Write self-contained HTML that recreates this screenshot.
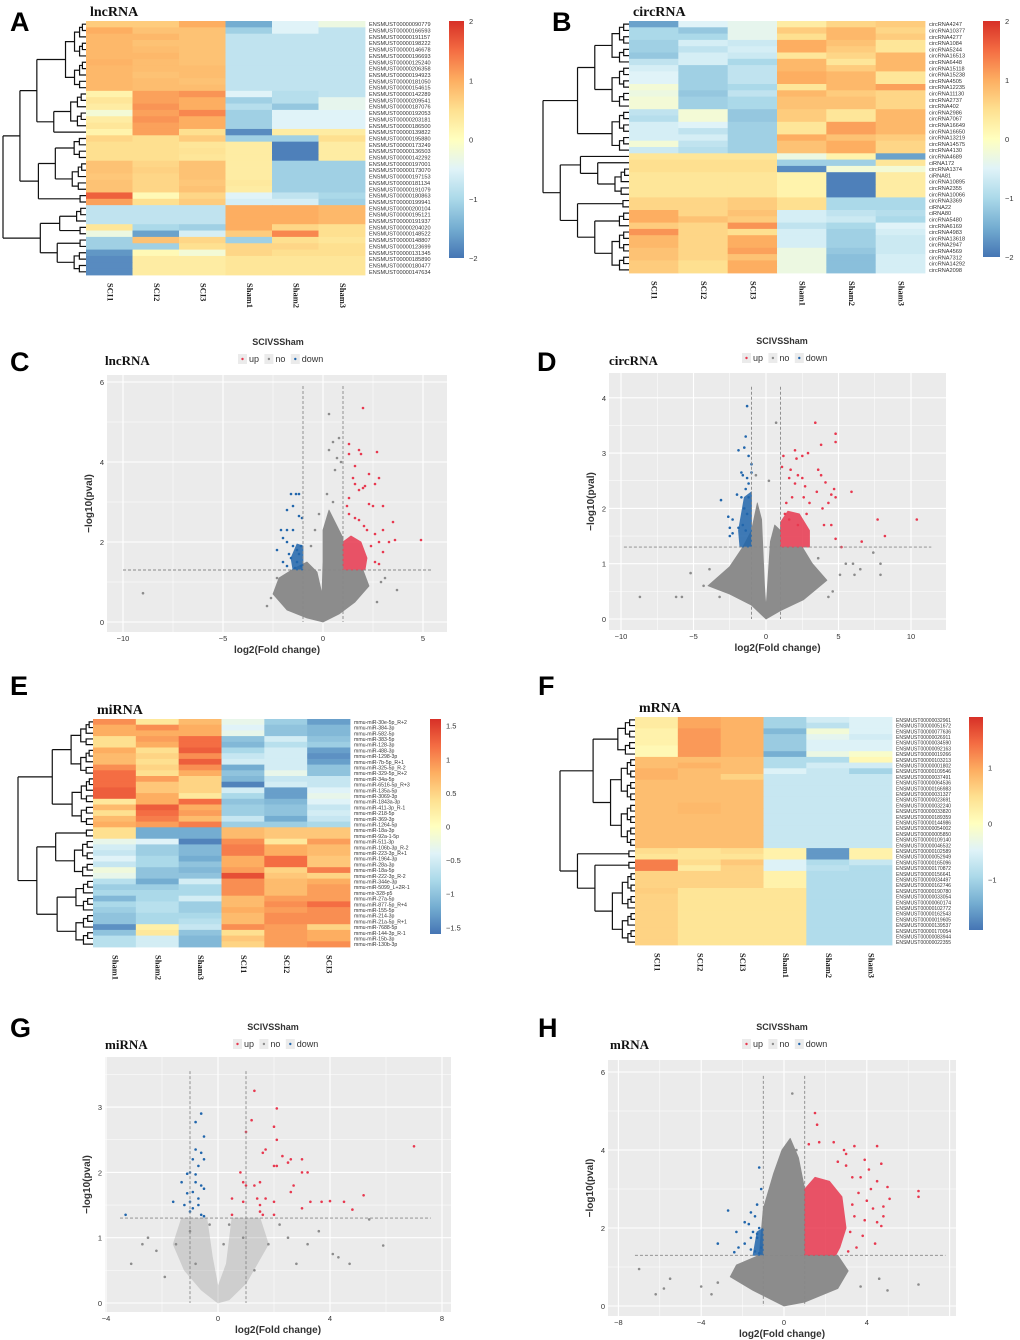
<!DOCTYPE html>
<html><head><meta charset="utf-8">
<style>
html,body{margin:0;padding:0;background:#fff;}
svg{display:block;}
.lt{font-family:"Liberation Sans",sans-serif;font-weight:bold;fill:#000;}
.tt{font-family:"Liberation Serif",serif;font-weight:bold;fill:#111;}
.sm{font-family:"Liberation Sans",sans-serif;fill:#333;}
</style></head>
<body>
<svg id="fig" width="1020" height="1340" viewBox="0 0 1020 1340" xmlns="http://www.w3.org/2000/svg">
<defs>
<linearGradient id="cbg" x1="0" y1="1" x2="0" y2="0">
<stop offset="0" stop-color="#4575b4"/><stop offset="0.125" stop-color="#74add1"/><stop offset="0.25" stop-color="#abd9e9"/><stop offset="0.375" stop-color="#e0f3f8"/><stop offset="0.5" stop-color="#ffffbf"/><stop offset="0.625" stop-color="#fee090"/><stop offset="0.75" stop-color="#fdae61"/><stop offset="0.875" stop-color="#f46d43"/><stop offset="1" stop-color="#d73027"/>
</linearGradient>
</defs>
<text class="lt" x="10" y="31" font-size="27">A</text>
<text class="lt" x="552" y="31" font-size="27">B</text>
<text class="lt" x="10" y="371" font-size="27">C</text>
<text class="lt" x="537" y="371" font-size="27">D</text>
<text class="lt" x="10" y="695" font-size="27">E</text>
<text class="lt" x="538" y="695" font-size="27">F</text>
<text class="lt" x="10" y="1037" font-size="27">G</text>
<text class="lt" x="538" y="1037" font-size="27">H</text>
</svg>
<script>
// ---------- Heatmap data ----------
const colsA = ["SCI1","SCI2","SCI3","Sham1","Sham2","Sham3"];
const colsE = ["Sham1","Sham2","Sham3","SCI1","SCI2","SCI3"];
const rowsA = ["090779","166593","191157","198222","146678","196693","125240","206358","194923","181050","154615","142289","209541","187076","192053","203181","186500","139822","195880","173249","136503","142292","197001","173070","197153","181134","191079","180863","199941","200104","195121","191937","204020","148522","148807","123699","131345","185890","180477","147634"].map(s=>"ENSMUST00000"+s);
const valsA = [
[0.7,0.7,1.0,-1.5,-0.5,-0.3],[1.0,0.8,0.8,-1.1,-0.5,-0.8],[0.9,0.9,0.8,-0.8,-0.8,-0.8],[0.9,0.8,0.8,-0.8,-0.8,-0.8],[0.9,0.85,0.8,-0.8,-0.8,-0.8],[0.9,0.9,0.8,-0.8,-0.8,-0.8],[0.95,0.85,0.8,-0.8,-0.8,-0.8],[0.9,0.85,0.85,-0.8,-0.8,-0.8],[0.9,0.8,0.85,-0.8,-0.8,-0.8],[0.9,0.85,0.8,-0.8,-0.8,-0.8],[0.9,0.85,0.85,-0.8,-0.8,-0.8],
[0.2,1.1,1.2,-0.5,-0.9,-0.8],[0.4,1.1,1.0,-1.1,-0.9,-0.4],[0.3,1.2,1.0,-0.9,-1.2,-0.4],[-0.2,1.1,1.3,-1.1,-0.5,-0.5],[0.3,1.2,1.0,-1.1,-0.5,-0.5],[0.4,1.1,1.0,-1.1,-0.5,-0.5],[0.2,1.1,0.5,-1.8,0.3,0.3],
[0.6,0.5,0.7,-1.1,-1.1,0.5],[0.5,0.5,0.4,0.3,-1.9,0.3],[0.5,0.5,0.45,0.3,-1.9,0.3],[0.5,0.5,0.4,0.3,-1.9,0.3],
[0.8,0.6,0.8,0.3,-1.1,-1.1],[0.8,0.65,0.8,0.3,-1.1,-1.1],[0.75,0.6,0.8,0.3,-1.1,-1.1],[0.8,0.6,0.75,0.35,-1.1,-1.1],[0.8,0.6,0.8,0.3,-1.1,-1.1],
[1.6,0.1,0.6,-0.5,-0.8,-1.0],[1.1,0.5,0.7,-0.6,-0.6,-1.1],
[-0.8,-0.8,-0.8,1.0,1.0,0.9],[-0.8,-0.8,-0.8,1.0,1.0,0.9],[-0.8,-0.8,-0.8,1.0,1.0,0.9],[0.4,-1.0,-1.1,1.0,0.6,0.5],[-0.3,-1.6,-0.6,0.7,1.3,0.5],
[-1.1,0.8,0.6,-1.1,0.5,0.4],[-1.1,-1.1,0.5,0.6,0.6,0.5],[-1.7,0.1,-0.2,0.6,0.5,0.5],[-1.8,0.3,0.3,0.4,0.4,0.4],[-1.8,0.3,0.3,0.4,0.4,0.4],[-1.8,0.3,0.3,0.4,0.4,0.4]];
const rowsB = ["circRNA4247","circRNA10377","circRNA4277","circRNA1084","circRNA5244","circRNA16513","circRNA6448","circRNA15118","circRNA15238","circRNA4505","circRNA12235","circRNA11130","circRNA2737","circRNA402","circRNA2986","circRNA7067","circRNA16649","circRNA16650","circRNA13219","circRNA14575","circRNA4130","circRNA4689","ciRNA172","circRNA1374","ciRNA81","circRNA10895","circRNA2355","circRNA10066","circRNA3369","ciRNA22","ciRNA80","circRNA5480","circRNA6169","circRNA4983","circRNA13618","circRNA2947","circRNA4569","circRNA7312","circRNA14292","circRNA2098"];
const valsB = [
[-1.6,-0.5,-0.4,0.3,0.6,0.7],[-1.0,-1.2,-0.4,0.7,0.9,0.6],[-1.0,-1.0,-0.4,0.5,0.9,0.7],[-1.1,-0.6,-0.7,1.0,0.8,0.4],[-1.1,-0.8,-0.6,1.0,0.7,0.4],[-1.2,-0.6,-0.7,0.4,0.6,0.9],[-0.8,-0.6,-1.0,0.9,0.4,0.9],
[-0.6,-1.1,-0.8,0.9,0.7,0.9],[-0.5,-1.1,-0.8,1.0,0.9,0.4],[-0.5,-1.1,-0.8,1.0,0.9,0.4],[-0.2,-1.1,-1.0,0.4,0.9,1.1],[-0.3,-1.2,-0.8,0.9,0.7,0.6],[-0.2,-1.1,-1.0,0.8,0.8,0.6],[-0.2,-1.1,-1.0,0.8,0.8,0.6],
[-0.8,-0.2,-1.2,0.7,0.4,0.9],[-0.9,-0.2,-1.2,0.7,0.4,0.9],[-0.6,-0.5,-1.1,0.4,1.1,0.9],[-0.6,-0.8,-1.1,0.4,1.1,0.9],[-0.6,-0.6,-1.1,1.0,0.8,0.7],[-0.2,-0.8,-1.1,0.8,1.0,0.6],[-0.7,-0.9,-1.1,0.8,1.0,0.6],
[0.4,0.4,0.4,-0.3,0.2,-1.6],[0.5,0.5,0.5,-1.1,-1.1,0.4],[0.5,0.5,0.5,-1.8,-0.2,-0.2],[0.4,0.4,0.4,0.2,-1.9,0.3],[0.4,0.4,0.4,0.2,-1.9,0.3],[0.4,0.4,0.4,0.2,-1.9,0.3],[0.4,0.4,0.4,0.2,-1.9,0.3],
[0.6,0.6,0.7,0.5,-1.0,-1.0],[0.6,0.6,0.7,0.5,-1.0,-1.0],[1.0,0.6,0.8,-0.6,-0.8,-0.9],[1.0,0.8,0.7,-0.6,-0.7,-1.0],[0.7,0.6,1.2,-0.8,-1.0,-0.5],[1.2,0.6,0.5,-0.6,-1.1,-0.6],[0.9,0.6,1.0,-0.6,-1.1,-0.7],[0.9,0.6,1.0,-0.6,-1.1,-0.7],[0.8,0.6,1.1,-0.3,-1.2,-0.7],[0.8,0.6,0.8,-0.3,-1.3,-0.6],[0.7,0.5,1.0,-0.3,-1.3,-0.6],[0.7,0.5,1.0,-0.3,-1.3,-0.6]];
const rowsE = ["mmu-miR-30e-5p_R+2","mmu-miR-384-3p","mmu-miR-582-5p","mmu-miR-383-5p","mmu-miR-128-3p","mmu-miR-488-3p","mmu-miR-1298-3p","mmu-miR-7b-5p_R+1","mmu-miR-325-5p_R-2","mmu-miR-329-5p_R+2","mmu-miR-34a-5p","mmu-miR-6516-5p_R+3","mmu-miR-135a-5p","mmu-miR-3069-3p","mmu-miR-1843a-3p","mmu-miR-411-3p_R-1","mmu-miR-218-5p","mmu-miR-369-3p","mmu-miR-1264-5p","mmu-miR-18a-3p","mmu-miR-92a-1-5p","mmu-miR-511-3p","mmu-miR-106b-3p_R-2","mmu-miR-223-3p_R+1","mmu-miR-1964-3p","mmu-miR-28a-3p","mmu-miR-18a-5p","mmu-miR-222-3p_R-2","mmu-miR-344e-3p","mmu-miR-5099_L+2R-1","mmu-mir-328-p5","mmu-miR-27a-5p","mmu-miR-877-5p_R+4","mmu-miR-155-5p","mmu-miR-214-3p","mmu-miR-21a-5p_R+1","mmu-miR-7688-5p","mmu-miR-144-3p_R-1","mmu-miR-15b-3p","mmu-miR-130b-3p"];
const valsE = [
[1.0,0.3,0.7,-0.3,-0.9,-1.3],[0.8,1.0,0.8,-0.4,-1.0,-1.1],[0.8,0.8,0.8,-0.3,-1.0,-1.1],[0.4,0.9,1.2,-1.0,-0.5,-1.0],[0.4,0.8,1.2,-1.1,-0.7,-0.9],[0.8,0.4,1.3,-0.8,-0.5,-1.3],[0.7,0.5,1.0,-0.6,-0.5,-1.4],[0.7,0.4,1.3,-0.5,-0.5,-1.3],[1.0,0.5,1.0,-1.2,-0.5,-1.0],[1.2,0.4,0.8,-1.0,-0.3,-1.0],
[1.2,0.9,0.5,-1.1,-0.6,-0.6],[1.2,0.6,0.5,-1.5,-0.5,-0.6],[1.3,0.6,0.5,-0.5,-1.3,-0.4],[1.3,0.8,0.3,-0.8,-1.3,-0.3],[0.3,0.8,1.2,-1.0,-1.1,-0.4],[0.7,1.3,0.8,-0.9,-1.0,-0.6],[0.4,1.2,0.9,-0.9,-1.0,-0.5],[0.7,1.1,0.7,-0.6,-1.2,-0.6],[0.8,0.9,1.1,-0.9,-0.9,-0.8],
[0.4,-1.2,-1.2,0.7,0.6,0.6],[0.4,-1.2,-1.2,0.7,0.6,0.6],[-0.3,-0.4,-1.5,1.0,0.3,0.9],[-0.5,-0.9,-1.1,1.1,0.8,0.7],[-0.6,-0.9,-1.1,1.1,0.8,0.7],[-0.4,-0.8,-1.2,0.8,1.2,0.6],[-0.6,-0.8,-1.0,0.8,1.2,0.6],[-0.2,-1.0,-1.1,0.9,0.5,1.1],[-0.3,-1.0,-1.0,1.4,0.6,0.5],
[-0.7,-1.2,-0.5,1.0,0.7,0.8],[-0.9,-0.9,-0.8,1.0,0.7,0.9],[-0.8,-0.8,-0.8,1.0,0.7,0.9],[-1.1,-0.8,-0.5,0.7,0.9,0.9],[-0.8,-0.7,-0.9,0.7,1.0,1.2],[-0.9,-0.7,-0.9,0.8,0.9,1.0],[-1.0,-0.8,-0.8,0.7,1.0,1.0],[-1.0,-0.8,-0.7,0.7,1.0,1.0],[-1.4,0.2,-0.6,1.0,0.9,0.5],[-1.0,0.3,-1.0,0.4,0.9,0.8],[-0.7,-0.5,-1.1,0.6,0.9,0.8],[-0.7,-0.5,-1.1,0.5,0.9,1.0]];
const rowsF = ["032961","051672","077636","026911","034590","092163","019266","103213","001802","109546","037491","064536","166983","031327","023691","032240","033820","189359","144986","054002","005850","109140","046532","102589","052949","165096","170872","156641","034497","162746","190780","033054","060174","102772","162543","019605","139537","170054","083944","022355"].map(s=>"ENSMUST00000"+s);
const valsF = [
[0.3,1.0,0.9,-1.0,-0.6,-0.5],[0.3,1.0,0.9,-1.0,-0.8,-0.5],[0.2,1.1,0.9,-1.3,-0.2,-0.5],[0.2,1.1,0.9,-1.1,-0.4,-0.6],[0.2,1.1,0.9,-1.1,-0.5,-0.5],[0.1,1.1,0.9,-1.1,-0.5,-0.5],[0.1,1.1,0.9,-1.4,-0.3,-0.1],
[0.8,0.8,0.8,-0.9,-0.9,0.1],[0.8,0.9,0.8,-0.9,-0.6,-0.6],[0.9,0.8,0.8,-0.5,-0.7,-1.0],[0.9,0.8,0.6,-0.7,-0.7,-0.7],
[0.8,0.8,0.8,-0.7,-0.7,-0.7],[0.8,0.8,0.8,-0.7,-0.7,-0.7],[0.8,0.8,0.8,-0.7,-0.7,-0.7],[0.8,0.8,0.8,-0.7,-0.7,-0.7],[0.8,0.85,0.8,-0.7,-0.7,-0.7],[0.8,0.85,0.8,-0.7,-0.7,-0.7],[0.8,0.8,0.8,-0.7,-0.7,-0.7],[0.8,0.8,0.8,-0.7,-0.7,-0.7],[0.8,0.8,0.8,-0.7,-0.7,-0.7],[0.8,0.8,0.8,-0.7,-0.7,-0.7],[0.8,0.8,0.8,-0.7,-0.7,-0.7],[0.8,0.8,0.8,-0.7,-0.7,-0.7],
[0.5,0.4,0.5,0.2,-1.6,0.2],[0.4,0.4,0.4,0.2,-1.6,0.2],[1.3,0.5,0.7,-0.5,-0.9,-0.7],[1.3,0.3,0.6,-0.5,-0.8,-0.9],
[0.6,0.6,0.6,0.2,-0.9,-0.9],[0.6,0.6,0.6,0.2,-0.9,-0.9],[0.6,0.6,0.6,0.2,-0.9,-0.9],
[0.65,0.4,0.4,0.4,-0.9,-0.9],[0.6,0.4,0.4,0.4,-0.9,-0.9],[0.6,0.4,0.4,0.4,-0.9,-0.9],[0.6,0.4,0.4,0.4,-0.9,-0.9],[0.6,0.4,0.4,0.4,-0.9,-0.9],[0.6,0.4,0.4,0.4,-0.9,-0.9],[0.6,0.4,0.4,0.4,-0.9,-0.9],[0.6,0.4,0.4,0.4,-0.9,-0.9],[0.6,0.4,0.4,0.4,-0.9,-0.9],[0.6,0.4,0.4,0.4,-0.9,-0.9]];
const ticksAB = [2,1,0,-1,-2];
const ticksE = [1.5,1,0.5,0,-0.5,-1,-1.5];
const ticksF = [1,0,-1];
const treeA = [[["0-10",["11-16","17"]],[["18-21","22-26"],"27-28"]],[["29-31","32-33"],["34-35","36-39"]]];
const treeB = [[["0-6","7-13"],"14-20"],[["21",["22","23-27"]],["28-29",["30-32","33-39"]]]];
const treeE = [["0-9","10-18"],[["19-20","21-27"],["28-33","34-39"]]];
const treeF = [["0-6","7-22"],["23-24",["25-26","27-39"]]];

// ---------- Volcano data (log2FC, -log10 p) ----------
const cloudC = [[0,0],[-0.8,0.1],[-1.8,0.3],[-2.5,0.7],[-2.2,1.1],[-1.4,1.35],[-0.8,1.5],[-0.3,1.25],[-0.05,0.7],[0,1.5],[0,2.3],[0.3,2.8],[0.6,2.5],[1,2.1],[1,1.3],[2.0,1.3],[2.3,0.9],[1.6,0.5],[0.8,0.2]];
const denseUpC = [[1,1.3],[1,2.0],[1.4,2.15],[1.9,2.0],[2.2,1.6],[2.1,1.3]];
const denseDnC = [[-1,1.3],[-1,1.9],[-1.3,1.95],[-1.6,1.6],[-1.5,1.3]];
const upC = [[2.0,5.35],[1.3,4.45],[1.8,4.3],[2.7,4.25],[1.9,4.2],[1.3,4.2],[1.6,3.9],[2.3,3.7],[2.8,3.6],[1.5,3.6],[1.6,3.45],[2.1,3.4],[2.6,3.45],[1.8,3.3],[2.0,3.35],[1.3,3.1],[2.3,2.95],[2.5,2.9],[3.0,2.9],[1.2,2.9],[1.6,2.6],[3.5,2.5],[2.2,2.3],[3.0,2.3],[2.6,2.2],[3.6,2.05],[4.9,2.05],[3.3,2.0],[2.8,2.0],[2.4,1.9],[3.0,1.75],[2.6,1.5],[2.8,1.45],[1.3,2.7],[1.8,2.55],[2.05,2.4]];
const downC = [[-1.35,3.2],[-1.6,3.2],[-1.2,3.2],[-1.5,2.9],[-1.8,2.8],[-1.2,2.65],[-1.05,2.6],[-2.1,2.3],[-1.8,2.3],[-1.5,2.3],[-2.0,2.1],[-1.8,2.0],[-2.3,1.8],[-1.5,1.9],[-1.2,1.7],[-1.6,1.6],[-2.0,1.5],[-1.3,1.5],[-1.8,1.4],[-1.1,1.4],[-1.4,1.35],[-1.7,1.7],[-1.1,1.9],[-1.3,1.8]];
const grayC = [[-9,0.72],[3.7,0.8],[0.3,5.2],[-0.2,2.7],[0.3,4.3],[0.8,4.6],[0.6,3.8],[0.9,4.0],[-0.4,2.3],[-2.3,1.1],[-2.6,0.6],[2.9,1.0],[3.1,1.1],[0.5,4.5],[0.7,4.1],[0.2,3.2],[0.5,3.0],[-0.6,1.9],[-2.8,0.4],[2.7,0.5]];

const cloudD = [[0,0],[-1,0.25],[-2.5,0.45],[-4,0.6],[-2.5,0.95],[-1.6,1.3],[-1,1.6],[-0.6,2.1],[-0.3,1.8],[-0.1,0.6],[0,0.2],[0.1,0.6],[0.3,1.4],[0.6,1.7],[1,1.6],[1,1.3],[2.5,1.3],[3.2,1.0],[4.2,0.7],[2.6,0.35],[1,0.15]];
const denseUpD = [[1,1.3],[1,1.75],[1.5,1.95],[2.3,1.9],[3.0,1.6],[3.0,1.3]];
const denseDnD = [[-1,1.3],[-1,2.3],[-1.5,2.2],[-1.9,1.6],[-1.8,1.3]];
const upD = [[3.4,3.55],[4.8,3.35],[4.8,3.2],[3.8,3.15],[2.0,3.05],[2.5,2.95],[2.9,3.0],[1.2,2.95],[2.1,2.9],[1.1,2.75],[3.6,2.7],[1.7,2.7],[2.2,2.6],[1.6,2.55],[2.5,2.55],[3.8,2.6],[4.1,2.47],[2.0,2.45],[2.7,2.4],[4.7,2.35],[5.9,2.3],[3.5,2.3],[4.5,2.25],[1.8,2.2],[2.6,2.2],[4.8,2.2],[3.0,2.1],[1.4,2.1],[4.3,2.1],[3.9,2.0],[2.8,1.9],[7.7,1.8],[10.4,1.8],[4.5,1.7],[4.0,1.7],[8.2,1.5],[6.6,1.4],[4.8,1.45],[5.2,1.3],[1.6,1.8],[2.2,1.7],[1.3,1.9]];
const downD = [[-1.3,3.85],[-1.4,3.3],[-1.9,3.05],[-1.5,3.1],[-1.2,2.95],[-1.0,2.8],[-1.0,2.65],[-1.7,2.65],[-1.6,2.6],[-1.3,2.55],[-1.2,2.45],[-1.4,2.35],[-2.0,2.25],[-1.7,2.2],[-3.1,2.15],[-1.2,2.2],[-1.5,2.0],[-1.3,1.9],[-2.6,1.85],[-2.3,1.8],[-1.6,1.7],[-2.5,1.65],[-2.3,1.55],[-1.9,1.65],[-1.4,1.6],[-2.5,1.5]];
const grayD = [[-8.7,0.4],[-6.2,0.4],[-5.8,0.4],[-5.2,0.83],[-3.9,0.9],[-4.3,0.6],[0.7,3.55],[0.2,2.5],[5.5,1.0],[6.0,1.0],[7.4,1.2],[7.9,1.0],[7.9,0.8],[5.1,0.8],[4.3,0.4],[6.1,0.8],[6.5,0.9],[3.6,1.1],[4.6,0.5],[-3.2,0.4],[-0.7,2.6]];

const cloudG = [[0,0],[-0.6,0.2],[-1.2,0.5],[-1.6,0.9],[-1.3,1.3],[-0.4,1.3],[-0.2,0.7],[0,0.25],[0.3,0.6],[0.5,1.3],[1.5,1.3],[1.8,0.9],[1.0,0.3],[0.4,0.05]];
const denseUpG = [];
const denseDnG = [];
const upG = [[1.3,3.25],[2.1,2.98],[1.2,2.8],[2.0,2.7],[1.0,2.62],[2.1,2.5],[1.7,2.35],[1.6,2.3],[2.3,2.25],[2.6,2.2],[3.0,2.2],[2.5,2.15],[2.0,2.1],[2.1,2.1],[3.0,2.0],[3.2,2.0],[0.8,2.0],[0.9,1.85],[1.0,1.8],[2.7,1.8],[1.5,1.85],[1.3,1.8],[2.6,1.7],[1.4,1.6],[5.2,1.65],[1.7,1.6],[0.5,1.6],[2.0,1.55],[3.3,1.55],[3.7,1.55],[4.0,1.56],[4.5,1.55],[1.5,1.5],[0.9,1.55],[3.0,1.45],[4.8,1.43],[1.5,1.4],[0.5,1.35],[1.6,1.35],[2.0,1.35],[7.0,2.4]];
const downG = [[-0.6,2.9],[-0.8,2.77],[-0.5,2.55],[-0.8,2.35],[-0.9,2.2],[-0.5,2.2],[-0.6,2.3],[-0.7,2.1],[-1.0,2.0],[-1.1,1.98],[-0.8,1.97],[-1.3,1.85],[-0.8,1.85],[-0.6,1.8],[-0.5,1.75],[-0.9,1.7],[-1.1,1.68],[-0.7,1.6],[-1.0,1.55],[-1.6,1.55],[-0.7,1.5],[-0.9,1.45],[-1.0,1.4],[-0.6,1.35],[-0.5,1.33],[-3.3,1.35],[-1.2,1.5]];
const grayG = [[5.9,0.88],[4.7,0.6],[4.3,0.7],[-3.1,0.6],[-2.2,0.8],[-2.5,1.0],[3.2,0.9],[3.6,1.1],[5.4,1.28],[-1.5,0.9],[-0.3,1.2],[0.4,1.2],[1.8,0.9],[2.8,0.6],[-2.7,0.9],[4.1,0.75],[-1.9,0.4],[-1.0,1.1],[0.9,1.0],[2.2,1.2],[1.3,0.5],[-0.8,0.6],[0.2,0.9],[2.5,1.0]];

const cloudH = [[0,0],[-1.5,0.4],[-2.6,0.75],[-2.3,1.05],[-1.2,1.3],[-1.0,2.5],[-0.5,3.4],[-0.1,4.0],[0.3,4.3],[0.7,3.8],[1,3.0],[1,1.3],[2.6,1.3],[3.1,0.9],[2.6,0.45],[1.0,0.1]];
const denseUpH = [[1,1.3],[1,3.0],[1.5,3.3],[2.2,3.2],[2.8,2.8],[3.0,2.0],[2.7,1.5],[2.5,1.3]];
const denseDnH = [[-1,1.3],[-1,2.0],[-1.3,1.9],[-1.5,1.3]];
const upH = [[1.5,4.95],[1.6,4.65],[1.7,4.2],[2.4,4.2],[1.2,4.15],[3.4,4.1],[4.5,4.1],[2.9,4.0],[3.0,3.9],[3.9,3.75],[4.7,3.65],[4.5,3.2],[5.0,3.05],[6.5,2.95],[6.5,2.8],[5.1,2.75],[4.8,2.55],[4.3,2.5],[4.8,2.3],[4.5,2.15],[4.7,2.05],[4.4,1.6],[4.0,2.7],[4.1,3.5],[3.8,1.8],[3.3,3.3],[3.6,2.9],[3.4,2.3],[3.2,1.9],[3.5,1.5],[3.1,1.4],[3.9,2.2],[3.0,3.6],[2.6,3.7],[3.7,3.3],[4.2,3.0],[3.3,2.6]];
const downH = [[-1.2,3.55],[-1.1,3.0],[-1.3,2.6],[-2.7,2.45],[-1.6,2.4],[-1.4,2.3],[-1.9,2.15],[-1.7,2.1],[-1.2,2.0],[-1.5,1.9],[-2.3,1.9],[-1.6,1.75],[-1.3,1.75],[-1.9,1.6],[-3.2,1.6],[-2.2,1.5],[-1.6,1.45],[-1.4,1.4],[-2.4,1.38],[-1.1,1.5],[-1.3,1.85],[-1.2,1.35]];
const grayH = [[0.4,5.45],[-7.0,0.95],[-5.5,0.7],[-5.8,0.45],[-6.2,0.3],[6.5,0.55],[4.6,0.7],[5.0,0.4],[3.7,0.5],[-3.2,0.6],[-4.0,0.5],[-3.5,0.3],[0.3,3.9],[0.6,4.0]];

const xticksC=[-10,-5,0,5], yticksC=[0,2,4,6];
const xticksD=[-10,-5,0,5,10], yticksD=[0,1,2,3,4];
const xticksG=[-4,0,4,8], yticksG=[0,1,2,3];
const xticksH=[-8,-4,0,4], yticksH=[0,2,4,6];

// ---------- helpers ----------
const svg=document.getElementById('fig');
const NS="http://www.w3.org/2000/svg";
function mk(tag,attrs,parent){const e=document.createElementNS(NS,tag);for(const k in attrs)e.setAttribute(k,attrs[k]);(parent||svg).appendChild(e);return e;}
const stops=[[-1,[69,117,180]],[-0.75,[116,173,209]],[-0.5,[171,217,233]],[-0.25,[224,243,248]],[0,[255,255,191]],[0.25,[254,224,144]],[0.5,[253,174,97]],[0.75,[244,109,67]],[1,[215,48,39]]];
function col(t){t=Math.max(-1,Math.min(1,t));for(let i=0;i<stops.length-1;i++){const a=stops[i],b=stops[i+1];if(t<=b[0]){const f=(t-a[0])/(b[0]-a[0]);return 'rgb('+a[1].map((v,j)=>Math.round(v+(b[1][j]-v)*f)).join(',')+')';}}return 'rgb(215,48,39)';}

function heatmap(o){
  const g=mk('g',{});
  
  
  const nr=o.vals.length, nc=o.cols.length, cw=(o.x1-o.x0)/nc, rh=(o.y1-o.y0)/nr;
  o.vals.forEach((row,i)=>row.forEach((v,j)=>{
    const r=mk('rect',{x:(o.x0+j*cw).toFixed(2),y:(o.y0+i*rh).toFixed(2),width:(cw+0.4).toFixed(2),height:(rh+0.4).toFixed(2),fill:col(v/o.max)},g);
    
    
  }));
  o.rows.forEach((s,i)=>{const t=mk('text',{x:o.x1+4,y:(o.y0+(i+0.5)*rh+2).toFixed(2),'font-size':o.lfs||5.6,class:'sm',fill:'#222'},g);t.textContent=s;
    
    });
  o.cols.forEach((s,j)=>{const cx=o.x0+(j+0.5)*cw, cy=o.y1+8;const t=mk('text',{x:cx,y:cy,transform:'rotate(90 '+cx+' '+cy+')','font-size':8.5,'font-family':'Liberation Serif,serif','font-weight':'bold',fill:'#222','dominant-baseline':'middle'},g);t.textContent=s;
    
    });
  const cb=mk('rect',{x:o.cbx,y:o.cby0,width:o.cbw,height:o.cby1-o.cby0,fill:'url(#cbg)'},g);
  
  
  const cym=(o.cby0+o.cby1)/2, cs=(o.cby1-o.cby0)/2/o.max;
  o.ticks.forEach(v=>{const t=mk('text',{x:o.cbx+o.cbw+5,y:(cym-v*cs+3).toFixed(1),'font-size':7.5,class:'sm',fill:'#333'},g);t.textContent=(v<0?'\u2212':'')+Math.abs(v);
    
    });
  const tt=mk('text',{x:o.x0+4,y:o.y0-5,'font-size':14,class:'tt'},g);tt.textContent=o.title;
  
  
  const dg=mk('g',{stroke:'#111','stroke-width':1.2,fill:'none'},g);
  
  
  function frac(n){ if(Array.isArray(n)){const cs=n.map(frac);const m=Math.max(...cs.map(c=>c.f));return {f:m+0.2,kids:cs,arr:true};}
    const p=String(n).split('-').map(Number);const lo=p[0],hi=p.length>1?p[1]:p[0];return {f:hi>lo?Math.min(0.3,0.07*Math.log2(hi-lo+1)):0,lo:lo,hi:hi};}
  const root=frac(o.tree); const sc=(o.x0-o.dx)/root.f;
  function ry(i){return o.y0+(i+0.5)*rh;}
  function drawRange(lo,hi,h){ if(lo===hi) return ry(lo); const mid=Math.floor((lo+hi)/2);
    const hh=h; const ch=Math.max(0,hh*0.7); const a=drawRange(lo,mid,lo===mid?0:ch*0.8), b=drawRange(mid+1,hi,mid+1===hi?0:ch*0.8);
    const xa=o.x0-(lo===mid?0:ch*0.8)*sc, xb=o.x0-(mid+1===hi?0:ch*0.8)*sc, xn=o.x0-hh*sc;
    mk('path',{d:`M${xa} ${a}H${xn}V${b}H${xb}`},dg); return (a+b)/2; }
  function draw(n){ if(n.arr){ if(n.kids.length===1) return draw(n.kids[0]); const ys=n.kids.map(draw); const xn=o.x0-n.f*sc;
      n.kids.forEach((k,i)=>{mk('path',{d:`M${o.x0-k.f*sc} ${ys[i]}H${xn}`},dg);}); mk('path',{d:`M${xn} ${ys[0]}V${ys[ys.length-1]}`},dg); return (ys[0]+ys[ys.length-1])/2; }
    return drawRange(n.lo,n.hi,n.f); }
  draw(root);
}

heatmap({name:'heatmap-lncrna',title:'lncRNA',x0:86,x1:365,y0:21,y1:275,dx:3,vals:valsA,rows:rowsA,cols:colsA,max:2,ticks:ticksAB,tree:treeA,cbx:449,cbw:15,cby0:21,cby1:258});
heatmap({name:'heatmap-circrna',title:'circRNA',x0:629,x1:925,y0:21,y1:273,dx:543,vals:valsB,rows:rowsB,cols:colsA,max:2,ticks:ticksAB,tree:treeB,cbx:983,cbw:17,cby0:21,cby1:257});
heatmap({name:'heatmap-mirna',title:'miRNA',x0:93,x1:350,y0:719,y1:947,dx:18,vals:valsE,rows:rowsE,cols:colsE,max:1.6,ticks:ticksE,tree:treeE,cbx:430,cbw:11,cby0:719,cby1:934,lfs:5.2});
heatmap({name:'heatmap-mrna',title:'mRNA',x0:635,x1:892,y0:717,y1:945,dx:560,vals:valsF,rows:rowsF,cols:colsA,max:1.9,ticks:ticksF,tree:treeF,cbx:969,cbw:14,cby0:717,cby1:930,lfs:5.0});

function volcano(o){
  const g=mk('g',{});
  
  
  const X=v=>o.x0px+v*o.xs, Y=v=>o.y0px-v*o.ys;
  const bg=mk('rect',{x:o.L,y:o.T,width:o.R-o.L,height:o.B-o.T,fill:'#ebebeb'},g);
  
  
  const xst=o.xt[1]-o.xt[0], yst=o.yt[1]-o.yt[0];
  for(let v=o.xt[0]-xst;v<=o.xt[o.xt.length-1]+xst;v+=xst/2){const x=X(v);if(x>o.L&&x<o.R)mk('line',{x1:x,x2:x,y1:o.T,y2:o.B,stroke:'#fff','stroke-width':(Math.abs(v/xst-Math.round(v/xst))<0.01)?1.1:0.5},g);}
  for(let v=o.yt[0]-yst;v<=o.yt[o.yt.length-1]+yst;v+=yst/2){const y=Y(v);if(y>o.T&&y<o.B)mk('line',{x1:o.L,x2:o.R,y1:y,y2:y,stroke:'#fff','stroke-width':(Math.abs(v/yst-Math.round(v/yst))<0.01)?1.1:0.5},g);}
  const poly=(pts,fill,op,nm)=>{if(!pts.length)return;const p=mk('polygon',{points:pts.map(q=>X(q[0]).toFixed(1)+','+Y(q[1]).toFixed(1)).join(' '),fill:fill,opacity:op,stroke:fill,'stroke-width':0.8,'stroke-linejoin':'round'},g);
    
    };
  poly(o.cloud,'#8c8c8c',o.cloudOp||1,'no-change-cloud');
  const pts=(arr,fill,nm)=>arr.forEach(q=>{const c=mk('circle',{cx:X(q[0]).toFixed(1),cy:Y(q[1]).toFixed(1),r:1.3,fill:fill},g);
    
    });
  pts(o.gray,'#8c8c8c','no-change-point');
  poly(o.dUp,'#e8384f',0.85,'up-dense-region');
  poly(o.dDn,'#2166ac',0.85,'down-dense-region');
  pts(o.up,'#e8384f','up-point');
  pts(o.down,'#2166ac','down-point');
  const dash={stroke:'#888','stroke-width':0.9,'stroke-dasharray':'3,2'};
  [-1,1].forEach(v=>{const l=mk('line',Object.assign({x1:X(v),x2:X(v),y1:Y(o.vtop),y2:Y(0)},dash),g);
    
    });
  const hl=mk('line',Object.assign({x1:X(o.hx[0]),x2:X(o.hx[1]),y1:Y(1.3),y2:Y(1.3)},dash),g);
  
  
  o.xt.forEach(v=>{const t=mk('text',{x:X(v),y:o.B+9,'font-size':7.5,class:'sm','text-anchor':'middle',fill:'#555'},g);t.textContent=(v<0?'\u2212':'')+Math.abs(v);
    
    });
  o.yt.forEach(v=>{const t=mk('text',{x:o.L-3,y:Y(v)+3,'font-size':7.5,class:'sm','text-anchor':'end',fill:'#555'},g);t.textContent=v;
    
    });
  const xl=mk('text',{x:(o.L+o.R)/2-(o.xlOff||0),y:o.B+21,'font-size':10,class:'sm','text-anchor':'middle','font-weight':'bold',fill:'#444'},g);xl.textContent='log2(Fold change)';
  
  
  const yx=o.L-15, yy=(o.T+o.B)/2;
  const yl=mk('text',{x:yx,y:yy,transform:`rotate(-90 ${yx} ${yy})`,'font-size':10,class:'sm','text-anchor':'middle','font-weight':'bold',fill:'#444'},g);yl.textContent='\u2212log10(pval)';
  
  
  const st=mk('text',{x:o.tx,y:o.ty,'font-size':9,class:'sm','text-anchor':'middle','font-weight':'bold',fill:'#222'},g);st.textContent='SCIVSSham';
  
  
  const tt=mk('text',{x:o.nx,y:o.ny,'font-size':13,class:'tt'},g);tt.textContent=o.title;
  
  
  const lg=mk('g',{},g);
  
  
  let lx=o.tx-40; const ly=o.ty+17;
  [['up','#e8384f'],['no','#8c8c8c'],['down','#2166ac']].forEach(e=>{
    const b=mk('rect',{x:lx,y:ly-8,width:9,height:10,fill:'#ebebeb'},lg);
    
    
    mk('circle',{cx:lx+4.5,cy:ly-3,r:1.2,fill:e[1]},lg);
    const t=mk('text',{x:lx+11,y:ly,'font-size':9,class:'sm',fill:'#333'},lg);t.textContent=e[0];
    
    
    lx+=11+(e[0].length*5.2)+5;});
}

volcano({name:'volcano-lncrna',title:'lncRNA',L:107,R:447,T:375,B:632,x0px:323,xs:20,y0px:622,ys:40,xt:xticksC,yt:yticksC,cloud:cloudC,dUp:denseUpC,dDn:denseDnC,up:upC,down:downC,gray:grayC,vtop:5.9,hx:[-10,5.5],tx:278,ty:345,nx:105,ny:365});
volcano({name:'volcano-circrna',title:'circRNA',L:609,R:946,T:373,B:630,x0px:766,xs:14.5,y0px:619,ys:55.3,xt:xticksD,yt:yticksD,cloud:cloudD,dUp:denseUpD,dDn:denseDnD,up:upD,down:downD,gray:grayD,vtop:4.2,hx:[-9.8,11.4],tx:782,ty:344,nx:609,ny:365});
volcano({name:'volcano-mirna',title:'miRNA',L:105,R:451,T:1057,B:1312,x0px:218,xs:28,y0px:1303,ys:65.3,xt:xticksG,yt:yticksG,cloud:cloudG,cloudOp:0.3,dUp:denseUpG,dDn:denseDnG,up:upG,down:downG,gray:grayG,vtop:3.55,hx:[-3.5,7.6],tx:273,ty:1030,nx:105,ny:1049});
volcano({name:'volcano-mrna',title:'mRNA',L:608,R:956,T:1060,B:1316,x0px:784,xs:20.7,y0px:1306,ys:39,xt:xticksH,yt:yticksH,cloud:cloudH,dUp:denseUpH,dDn:denseDnH,up:upH,down:downH,gray:grayH,vtop:5.9,hx:[-7.2,7.8],tx:782,ty:1030,nx:610,ny:1049});
</script>
</body></html>
